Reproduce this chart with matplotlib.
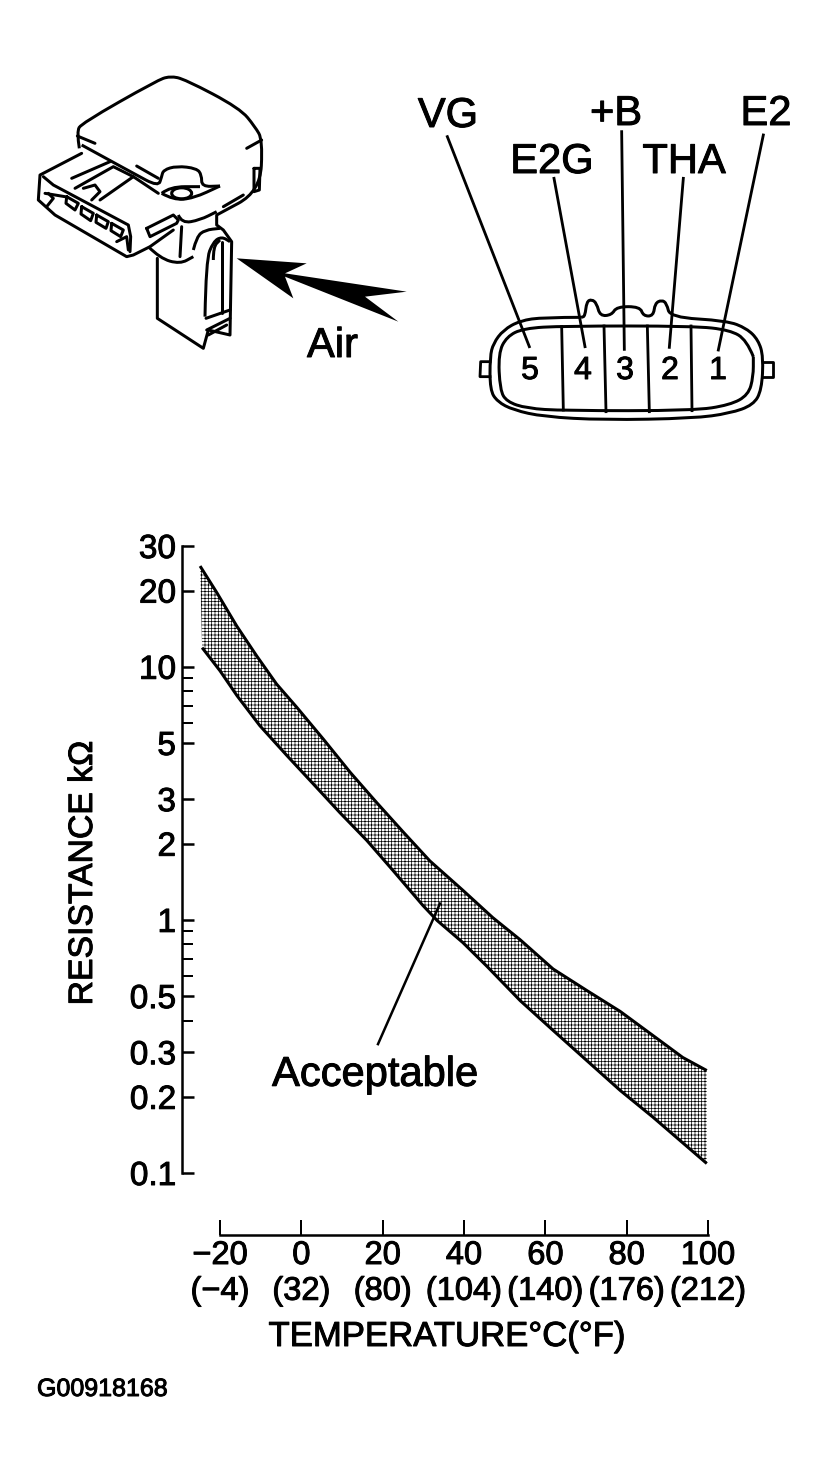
import matplotlib
matplotlib.use('Agg')
import matplotlib.pyplot as plt
import matplotlib.patheffects as pe
from matplotlib.patches import Ellipse, PathPatch
from matplotlib.path import Path
from matplotlib.text import Text

plt.rcParams['font.family'] = ['Liberation Sans', 'DejaVu Sans']
plt.rcParams['hatch.linewidth'] = 0.5

# band edges: temperature (C), resistance (kOhm)
upper_t = [-24.9, -20.8, -15.9, -11.0, -6.1, -1.1, 5.4, 12.0, 18.5, 25.1, 31.6, 39.7, 47.1, 53.8, 61.9, 70.2, 78.4, 86.5, 93.8, 99.7]
upper_r = [25.0, 19.65, 14.5, 11.05, 8.55, 6.91, 5.18, 3.83, 2.91, 2.22, 1.71, 1.31, 1.02, 0.835, 0.640, 0.526, 0.435, 0.349, 0.286, 0.254]
lower_t = [-24.4, -20.0, -15.8, -10.2, -3.5, 2.9, 9.5, 16.1, 22.5, 29.9, 33.4, 39.7, 45.7, 53.8, 61.9, 70.2, 78.4, 86.5, 93.1, 99.7]
lower_r = [11.9, 9.64, 7.68, 5.85, 4.45, 3.45, 2.65, 2.06, 1.57, 1.14, 0.994, 0.814, 0.654, 0.480, 0.366, 0.278, 0.212, 0.166, 0.1345, 0.109]

y_major = [0.1, 0.2, 0.3, 0.5, 1, 2, 3, 5, 10, 20, 30]
y_labels = ['0.1', '0.2', '0.3', '0.5', '1', '2', '3', '5', '10', '20', '30']
y_minor = [0.4, 0.6, 0.7, 0.8, 0.9, 6, 7, 8, 9]
x_major = [-20, 0, 20, 40, 60, 80, 100]
x_labels = ['\u221220\n(\u22124)', '0\n(32)', '20\n(80)', '40\n(104)', '60\n(140)', '80\n(176)', '100\n(212)']

W, H = 827, 1472
dpi = 100

# sensor sketch, traced in crop coordinates (3x, offset 0,60)
sensor_round = [
    [(238,265),(230,215),(245,190),(470,62),(510,48),(555,58),(720,145),(765,200),(788,240),(780,395),(650,465)],
    [(245,255),(400,340),(475,380),(485,350),(490,330),(530,318),(590,325),(605,345),(605,380),(660,378)],
    [(485,400),(520,420),(580,415),(660,378)],
    [(485,400),(510,380),(600,380)],
    [(535,465),(545,490),(600,480),(650,455)],
    [(445,560),(480,595),(540,612),(580,590)],
    [(615,770),(618,600),(640,545),(665,530),(690,545)],
    [(580,570),(590,530),(615,510),(660,505)],
    [(640,600),(640,560),(660,540)],
]
sensor_lines = [
    [(232,228),(285,250)],
    [(410,318),(475,355)],
    [(245,280),(120,345),(115,420),(165,465),(380,590),(400,585),(450,560),(520,510)],
    [(130,350),(160,375),(385,495),(392,530),(390,575)],
    [(215,355),(330,305)],
    [(225,385),(340,320),(400,350),(300,420)],
    [(250,385),(285,375),(300,395),(275,420)],
    [(400,350),(475,400)],
    [(440,505),(520,465),(535,480),(530,490),(450,530),(440,505)],
    [(670,440),(730,405)],
    [(740,265),(785,240)],
    [(762,325),(780,325),(778,390),(762,395),(762,325)],
    [(545,500),(540,590)],
    [(472,595),(472,775),(610,865),(625,810),(690,825),(695,545),(670,510),(650,495),(650,465)],
    [(618,775),(690,750)],
    [(620,810),(690,775)],
    [(625,825),(680,795)],
    [(665,760),(665,545)],
    [(200,410),(235,430),(225,450),(198,430),(200,410)],
    [(245,440),(280,460),(272,482),(243,462),(245,440)],
    [(290,465),(325,485),(318,505),(288,487),(290,465)],
    [(335,490),(370,510),(362,530),(333,512),(335,490)],
    [(135,400),(195,410)],
    [(145,400),(160,415),(140,440)],
    [(350,545),(380,530),(385,570)],
]
arrow = [(710,595),(920,610),(855,640),(1220,695),(1095,710),(1195,785),(855,650),(880,715),(710,595)]

# connector sketch, traced in crop coordinates (3x, offset 410,80)
shell = [(515,712),(400,712),(330,722),(280,750),(250,790),(240,830),(240,930),(262,965),(310,990),(400,1010),
         (580,1020),(850,1015),(960,1000),(1030,975),(1055,930),(1060,830),(1045,780),(1010,745),(950,722),
         (780,712),(770,670),(755,660),(735,670),(730,708),(700,708),(690,680),(620,680),(605,705),(570,708),
         (560,670),(545,658),(530,665),(525,708),(515,712)]
inner = [(1030,830),(1010,780),(960,750),(850,738),(460,738),(340,745),(290,770),(265,820),(270,930),(290,965),
         (350,985),(460,992),(850,992),(960,975),(1015,945),(1030,890),(1030,830)]
conn_lines = [
    [(455,740),(460,990)], [(582,738),(588,995)], [(712,738),(718,995)], [(843,738),(846,992)],
    [(240,845),(212,845),(210,890),(240,890)], [(1060,845),(1088,845),(1088,890),(1060,890)],
]
leaders = [
    [(112,170),(358,800)], [(432,295),(525,800)], [(635,155),(643,808)],
    [(820,295),(778,802)], [(1060,165),(925,810)],
]

fig = plt.figure(figsize=(W / dpi, H / dpi), dpi=dpi)


def px(n):
    return n * 72 / dpi


def smooth(pts):
    # quadratic pieces through the midpoints, rounds the traced corners
    verts = [pts[0]]
    codes = [Path.MOVETO]
    for i in range(1, len(pts) - 1):
        mid = ((pts[i][0] + pts[i + 1][0]) / 2, (pts[i][1] + pts[i + 1][1]) / 2)
        verts += [pts[i], mid]
        codes += [Path.CURVE3, Path.CURVE3]
    verts.append(pts[-1])
    codes.append(Path.LINETO)
    return Path(verts, codes)


# the graph itself
ax = fig.add_axes([220 / W, 1 - 1173 / H, (708 - 220) / W, (1173 - 546) / H])
ax.set_xlim(-20, 100)
ax.set_yscale('log')
ax.set_ylim(0.1, 30)

band_t = upper_t + lower_t[::-1]
band_r = upper_r + lower_r[::-1]
ax.fill(band_t, band_r, facecolor='white', edgecolor='black', hatch='+++++', linewidth=0, clip_on=False)
ax.plot(upper_t, upper_r, color='black', lw=px(3), clip_on=False, solid_capstyle='butt')
ax.plot(lower_t, lower_r, color='black', lw=px(3), clip_on=False, solid_capstyle='butt')

ax.plot([18.85, 34.1], [0.323, 1.16], color='black', lw=px(2.5), clip_on=False)
ax.text(-7.2, 0.221, 'Acceptable', fontsize=30, va='baseline', ha='left')

for s in ['top', 'right']:
    ax.spines[s].set_visible(False)
ax.spines['left'].set_position(('outward', px(38)))
ax.spines['bottom'].set_position(('outward', px(62)))
ax.spines['left'].set_linewidth(px(2.5))
ax.spines['bottom'].set_linewidth(px(2.5))

ax.set_yticks(y_major, y_labels)
ax.set_yticks(y_minor, [''] * len(y_minor), minor=True)
ax.set_xticks(x_major, x_labels)
ax.tick_params(axis='y', which='major', direction='in', length=px(12), width=px(2.5), pad=px(6), labelsize=24)
ax.tick_params(axis='y', which='minor', direction='in', length=px(11), width=px(2))
ax.tick_params(axis='x', direction='in', length=px(15), width=px(2), pad=px(5), labelsize=23.5)
for lab in ax.get_xticklabels():
    lab.set_linespacing(1.2)

ax.set_xlabel('TEMPERATURE\u00b0C(\u00b0F)', fontsize=25)
ax.xaxis.set_label_coords((447 - 220) / (708 - 220), -(1346 - 1173) / (1173 - 546), transform=ax.transAxes)
ax.xaxis.label.set_va('baseline')
ax.set_ylabel('RESISTANCE k\u03a9', fontsize=24.3)
ax.yaxis.set_label_coords((83.5 - 220) / (708 - 220), (1173 - 873) / (1173 - 546), transform=ax.transAxes)
ax.yaxis.label.set_va('center')

# overlay in image pixels for the two sketches and the free labels
ov = fig.add_axes([0, 0, 1, 1])
ov.set_xlim(0, W)
ov.set_ylim(H, 0)
ov.axis('off')
ov.patch.set_alpha(0)

for line in sensor_round:
    ov.add_patch(PathPatch(smooth([(p[0] / 3, 60 + p[1] / 3) for p in line]), fill=False, ec='black', lw=px(3)))
for line in sensor_lines:
    ov.plot([p[0] / 3 for p in line], [60 + p[1] / 3 for p in line], color='black', lw=px(3),
            solid_joinstyle='round', solid_capstyle='round')
ov.fill([p[0] / 3 for p in arrow], [60 + p[1] / 3 for p in arrow], color='black', lw=0)
ov.add_patch(Ellipse((545 / 3, 60 + 400 / 3), 20, 11, fill=False, ec='black', lw=px(3)))

for line in [shell, inner]:
    ov.add_patch(PathPatch(smooth([(410 + p[0] / 3, 80 + p[1] / 3) for p in line]), fill=False, ec='black', lw=px(3)))
for line in conn_lines + leaders:
    ov.plot([410 + p[0] / 3 for p in line], [80 + p[1] / 3 for p in line], color='black', lw=px(2.8),
            solid_joinstyle='round')

for txt, x, y in [('VG', 448, 127), ('E2G', 552, 173), ('+B', 616, 125), ('THA', 684, 173), ('E2', 766, 125)]:
    ov.text(x, y, txt, fontsize=30, ha='center', va='baseline')
for txt, x in [('5', 530), ('4', 583), ('3', 625), ('2', 670), ('1', 718)]:
    ov.text(x, 379, txt, fontsize=23, ha='center', va='baseline')
ov.text(307, 357, 'Air', fontsize=30, ha='left', va='baseline')
ov.text(37, 1396, 'G00918168', fontsize=18, ha='left', va='baseline')

# scanned text looks a bit heavier than the plain font
for t in fig.findobj(Text):
    t.set_path_effects([pe.withStroke(linewidth=0.7, foreground='black')])

fig.savefig('out.png', dpi=dpi)
